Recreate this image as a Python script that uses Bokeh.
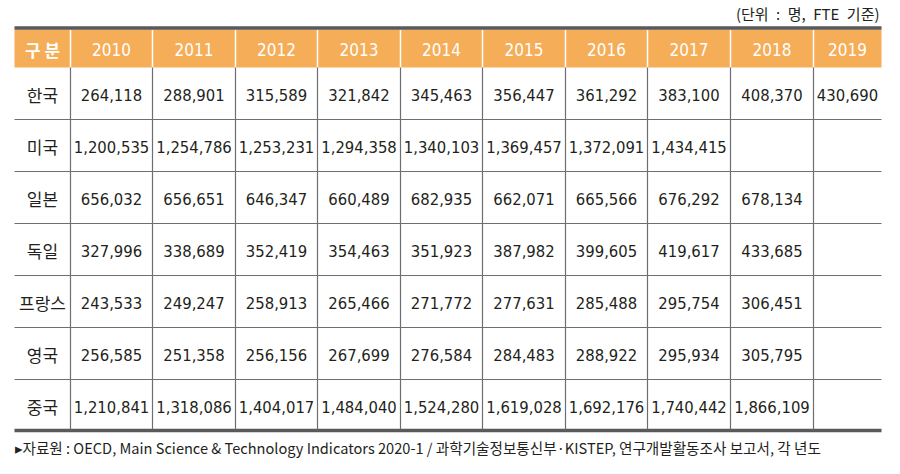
from bokeh.plotting import figure
from bokeh.models import Range1d, ColumnDataSource
from bokeh.core.properties import value
from bokeh.embed import file_html
from bokeh.resources import INLINE

# ---------------- data ----------------
years = ["2010", "2011", "2012", "2013", "2014", "2015", "2016", "2017", "2018", "2019"]
countries = ["한국", "미국", "일본", "독일", "프랑스", "영국", "중국"]
korea   = [264118, 288901, 315589, 321842, 345463, 356447, 361292, 383100, 408370, 430690]
usa     = [1200535, 1254786, 1253231, 1294358, 1340103, 1369457, 1372091, 1434415, None, None]
japan   = [656032, 656651, 646347, 660489, 682935, 662071, 665566, 676292, 678134, None]
germany = [327996, 338689, 352419, 354463, 351923, 387982, 399605, 419617, 433685, None]
france  = [243533, 249247, 258913, 265466, 271772, 277631, 285488, 295754, 306451, None]
uk      = [256585, 251358, 256156, 267699, 276584, 284483, 288922, 295934, 305795, None]
china   = [1210841, 1318086, 1404017, 1484040, 1524280, 1619028, 1692176, 1740442, 1866109, None]
rows = [korea, usa, japan, germany, france, uk, china]
header_label = "구 분"
unit_note = "(단위\u2002:\u2002명,\u2002FTE\u2002기준)"
source_note = "▸자료원 : OECD, Main Science & Technology Indicators 2020-1 / 과학기술정보통신부·KISTEP, 연구개발활동조사 보고서, 각 년도"

# ---------------- layout ----------------
W, H = 884, 458
LEFT, RIGHT = 14, 881
COL_EDGES = [14, 70, 152, 235, 317, 400, 482, 565, 647, 730, 813, 881]
TOP_LINE = 27.5
HEAD_TOP, HEAD_BOT = 29, 67
ROW_H = 52
BOTTOM_LINE = 430

HEAD_FILL = "#F5AD57"
DARK = "#58595B"
GRID = "#6D6E71"
TXT = "#231F20"
NUM_FONT = "DejaVu Sans Condensed"
KR_FONT = "Noto Sans CJK KR"

p = figure(width=W, height=H, output_backend="svg", toolbar_location=None,
           x_range=Range1d(0, W), y_range=Range1d(H, 0),
           min_border=0, outline_line_color=None)
p.axis.visible = False
p.grid.visible = False
p.background_fill_color = "white"

# header band
p.quad(left=[LEFT], right=[RIGHT], top=[HEAD_TOP], bottom=[HEAD_BOT],
       fill_color=HEAD_FILL, line_color=None)
# header white separators
inner = COL_EDGES[1:-1]
p.segment(x0=inner, x1=inner, y0=[HEAD_TOP] * len(inner), y1=[HEAD_BOT] * len(inner),
          line_color="white", line_width=1.5)
# top and bottom thick lines
p.segment(x0=[LEFT, LEFT], x1=[RIGHT, RIGHT], y0=[TOP_LINE, BOTTOM_LINE],
          y1=[TOP_LINE, BOTTOM_LINE], line_color=DARK, line_width=3.5)
# body vertical lines
p.segment(x0=inner, x1=inner, y0=[HEAD_BOT] * len(inner), y1=[BOTTOM_LINE - 1] * len(inner),
          line_color=GRID, line_width=1.2)
# body horizontal lines
ys = [HEAD_BOT + ROW_H * (i + 1) for i in range(len(countries) - 1)]
p.segment(x0=[LEFT] * len(ys), x1=[RIGHT] * len(ys), y0=ys, y1=ys,
          line_color=GRID, line_width=1.2)

centers = [(COL_EDGES[i] + COL_EDGES[i + 1]) / 2 for i in range(len(COL_EDGES) - 1)]
head_y = (HEAD_TOP + HEAD_BOT) / 2 + 1

# header text
p.text(x=[centers[0]], y=[head_y], text=[header_label], text_color="white",
       text_font=value(KR_FONT), text_font_size="17px", text_font_style="bold",
       text_align="center", text_baseline="middle")
p.text(x=centers[1:], y=[head_y] * len(years), text=years, text_color="white",
       text_font=value(NUM_FONT), text_font_size="17px",
       text_align="center", text_baseline="middle")

# body text
row_centers = [HEAD_BOT + ROW_H * i + ROW_H / 2 + 1 for i in range(len(countries))]
p.text(x=[centers[0]] * len(countries), y=row_centers, text=countries, text_color=TXT,
       text_font=value(KR_FONT), text_font_size="17px",
       text_align="center", text_baseline="middle")

xs, yy, tt = [], [], []
for ri, r in enumerate(rows):
    for ci, v in enumerate(r):
        if v is None:
            continue
        xs.append(centers[ci + 1])
        yy.append(row_centers[ri])
        tt.append(f"{v:,}")
src = ColumnDataSource(dict(x=xs, y=yy, t=tt))
p.text(x="x", y="y", text="t", source=src, text_color=TXT,
       text_font=value(NUM_FONT), text_font_size="16.5px",
       text_align="center", text_baseline="middle")

# notes
p.text(x=[879], y=[13], text=[unit_note], text_color=TXT, text_font=value(KR_FONT),
       text_font_size="15px", text_align="right", text_baseline="middle")
p.text(x=[14], y=[447], text=[source_note], text_color=TXT, text_font=value(KR_FONT),
       text_font_size="14.6px", text_align="left", text_baseline="middle")

open("out.html", "w").write(file_html(p, INLINE))
